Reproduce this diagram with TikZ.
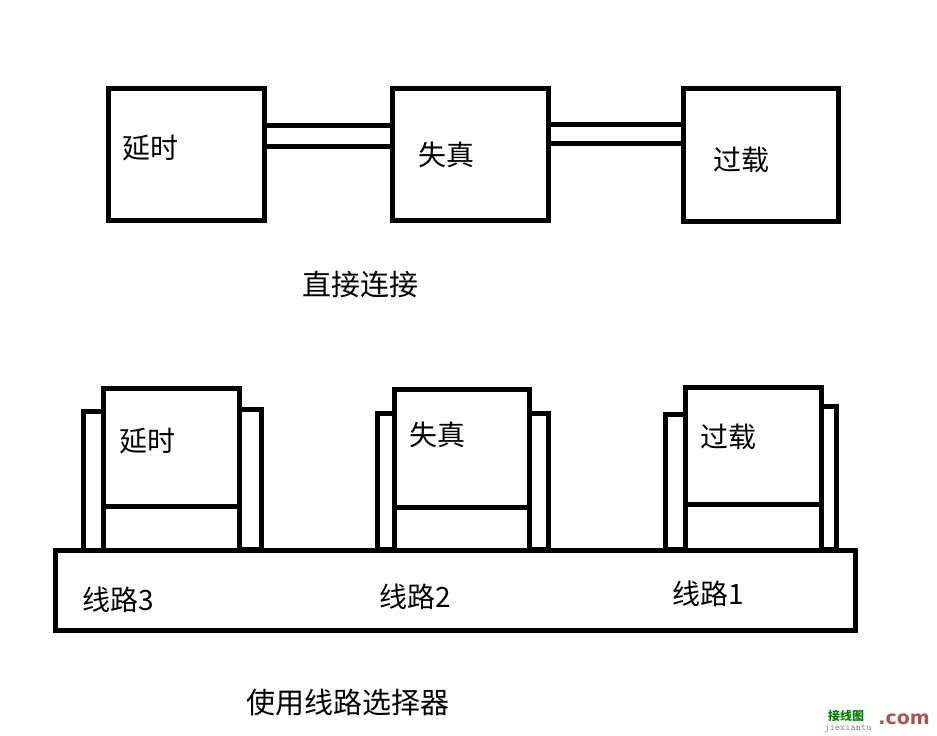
\documentclass[tikz,border=0pt]{standalone}
\usepackage{fontspec}
\newfontfamily\cjk{Noto Sans CJK SC}
\newfontfamily\wmfont{DejaVu Sans}
\begin{document}
\begin{tikzpicture}[x=1pt,y=-1pt,
  box/.style={draw=black,line width=5pt,fill=white},
  lbl/.style={font=\cjk\fontsize{28}{30}\selectfont,inner sep=0pt},
  captxt/.style={font=\cjk\fontsize{29}{31}\selectfont,inner sep=0pt}]
\useasboundingbox (0,0) rectangle (937,736);
% top row
\draw[box] (260,125) rectangle (392,146);
\draw[box] (544,124) rectangle (683,143);
\node[box,minimum width=156pt,minimum height=132pt,anchor=north west] (b1) at (106,86) {};
\node[box,minimum width=156pt,minimum height=132pt,anchor=north west] (b2) at (390,86) {};
\node[box,minimum width=155pt,minimum height=133pt,anchor=north west] (b3) at (681,86) {};
\node[lbl] (t1) at (150,148) {延时};
\node[lbl] (t2) at (446,155) {失真};
\node[lbl] (t3) at (741,160) {过载};
\node[captxt] (c1) at (360,284) {直接连接};
% bottom
\draw[box] (55,550) rectangle (855,630);
% module 1
\draw[box] (83,411) rectangle (103,550);
\draw[box] (239,409) rectangle (261,549);
\draw[box] (103,388) rectangle (239,506);
\draw[box] (103,506) -- (103,550) (239,506) -- (239,550);
% module 2
\draw[box] (377,413) rectangle (394,549);
\draw[box] (529,413) rectangle (548,549);
\draw[box] (394,389) rectangle (529,507);
% module 3
\draw[box] (665,414) rectangle (685,549);
\draw[box] (821,406) rectangle (836,549);
\draw[box] (685,387) rectangle (821,504);
\node[lbl] (m1) at (147,441) {延时};
\node[lbl] (m2) at (437,435) {失真};
\node[lbl] (m3) at (728,437) {过载};
\node[lbl] (l3) at (118,600) {线路3};
\node[lbl] (l2) at (415,597) {线路2};
\node[lbl] (l1) at (708,594) {线路1};
\node[captxt] (c2) at (348,703) {使用线路选择器};
% watermark
\node[font=\cjk\bfseries\fontsize{12}{12}\selectfont,text=green!50!black,inner sep=0pt] (w1) at (846,716) {接线图};
\node[font=\ttfamily\fontsize{10}{10}\selectfont,text=gray,inner sep=0pt] (w2) at (848,729) {jiexiantu};
\node[font=\wmfont\bfseries\fontsize{19}{19}\selectfont,text=red!35!gray,inner sep=0pt] (w3) at (904,719) {.com};
\end{tikzpicture}
\end{document}
